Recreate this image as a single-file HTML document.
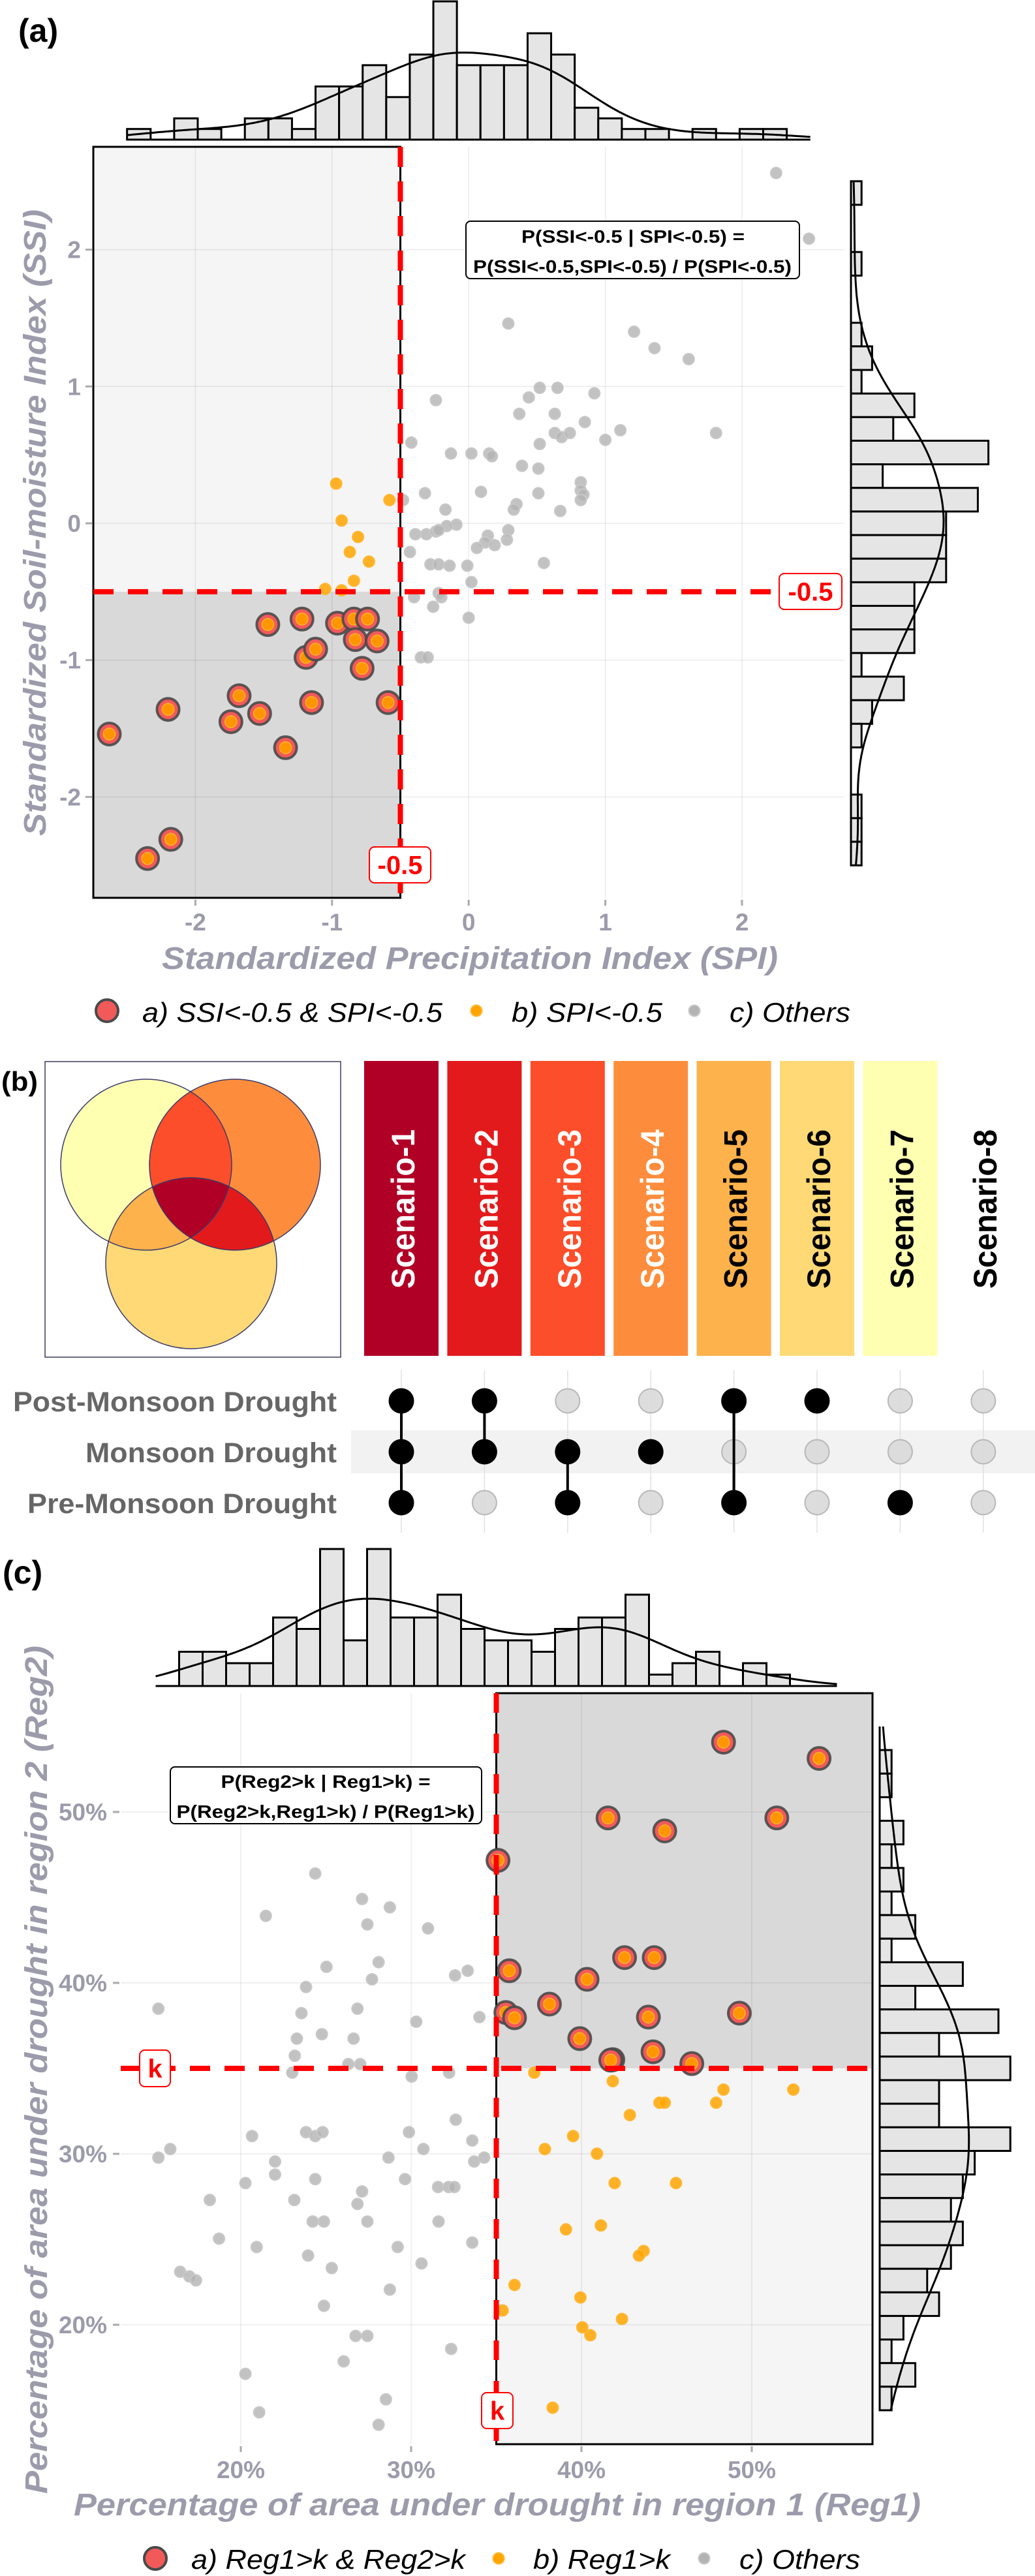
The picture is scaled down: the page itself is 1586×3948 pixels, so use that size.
<!DOCTYPE html>
<html><head><meta charset="utf-8"><title>Drought joint probability figure</title>
<style>
html,body{margin:0;padding:0;background:#fff;}
svg{display:block;font-family:"Liberation Sans",Arial,sans-serif;}
</style></head>
<body>
<svg id="fig" xmlns="http://www.w3.org/2000/svg" width="1586" height="3948" viewBox="0 0 1586 3948">
<defs>
<clipPath id="clipL"><circle cx="224" cy="1785" r="131"/></clipPath>
<clipPath id="clipR"><circle cx="360" cy="1785" r="131"/></clipPath>
<clipPath id="clipB"><circle cx="293" cy="1936" r="131"/></clipPath>
</defs>
<rect x="0" y="0" width="1586" height="3948" fill="#fff"/>
<g id="pa"></g>
<g id="pb"></g>
<g id="pc"></g>
</svg>
<script>
// ---------- Panel (a) data ----------
const aTopCounts=[1,0,2,1,0,2,2,1,5,5,7,4,8,13,7,7,7,10,8,3,2,1,1,0,1,0,1,1,0];
const aRightCounts=[1,0,0,1,0,0,1,2,1,6,4,13,3,12,9,9,9,6,6,6,1,5,2,1,0,0,1,1,1];
const aXTicks=[-2,-1,0,1,2];
const aYTicks=[-2,-1,0,1,2];
const aXTickLabels=["-2","-1","0","1","2"];
const aYTickLabels=["-2","-1","0","1","2"];
const aRedX=[-2.63,-2.20,-2.35,-2.18,-1.74,-1.68,-1.53,-1.47,-1.34,-1.22,-1.19,-1.12,-1.15,-0.96,-0.84,-0.74,-0.83,-0.67,-0.78,-0.59];
const aRedY=[-1.54,-1.36,-2.45,-2.31,-1.45,-1.26,-1.39,-0.74,-1.64,-0.70,-0.98,-0.92,-1.31,-0.73,-0.70,-0.70,-0.85,-0.86,-1.06,-1.31];
const aOrX=[-0.97,-0.93,-0.81,-0.87,-0.73,-0.84,-1.05,-0.93,-0.58];
const aOrY=[0.29,0.02,-0.10,-0.21,-0.28,-0.42,-0.48,-0.49,0.17];
const aGrayX=[2.25,2.49,0.29,1.21,1.36,1.61,-0.24,0.52,0.65,0.44,0.92,0.37,0.63,0.85,1.11,1.81,0.63,0.68,0.74,1.00,0.52,-0.42,-0.13,0.02,0.15,0.17,0.39,0.51,0.82,0.82,0.84,0.82,0.09,-0.32,0.51,-0.48,0.35,0.33,0.67,-0.17,-0.09,-0.16,-0.39,-0.31,-0.24,-0.22,0.14,0.29,0.12,0.28,0.19,0.06,-0.43,-0.28,-0.22,-0.14,-0.01,0.55,0.02,-0.40,-0.22,-0.20,-0.26,0.00,-0.35,-0.30];
const aGrayY=[2.56,2.08,1.46,1.40,1.28,1.20,0.90,0.99,0.99,0.92,0.95,0.80,0.80,0.74,0.68,0.66,0.66,0.63,0.66,0.61,0.58,0.59,0.51,0.51,0.51,0.49,0.42,0.40,0.30,0.24,0.21,0.17,0.23,0.22,0.22,0.17,0.14,0.10,0.09,0.10,-0.01,-0.02,-0.08,-0.08,-0.06,-0.05,-0.09,-0.05,-0.14,-0.12,-0.16,-0.18,-0.21,-0.30,-0.30,-0.31,-0.31,-0.29,-0.43,-0.54,-0.51,-0.54,-0.61,-0.69,-0.98,-0.98];
const aThreshold=[-0.5];
// ---------- Panel (b) data ----------
const bScenarios=["Scenario-1","Scenario-2","Scenario-3","Scenario-4","Scenario-5","Scenario-6","Scenario-7","Scenario-8"];
const bColors=["#B10026","#E31A1C","#FC4E2A","#FD8D3C","#FEB24C","#FED976","#FFFFB2","#FFFFFF"];
const bTextColors=["#fff","#fff","#fff","#fff","#000","#000","#000","#000"];
const bRows=["Post-Monsoon Drought","Monsoon Drought","Pre-Monsoon Drought"];
const bPost=[1,1,0,0,1,1,0,0];
const bMon=[1,1,1,1,0,0,0,0];
const bPre=[1,0,1,0,1,0,1,0];
// ---------- Panel (c) data ----------
const cTopCounts=[0,3,3,2,2,6,5,12,4,12,6,6,8,5,4,4,3,5,6,6,8,1,2,3,0,2,1,0,0];
const cRightCounts=[0,1,1,0,2,1,2,1,3,1,7,3,10,5,11,5,5,11,8,7,6,7,6,4,5,2,1,3,1];
const cXTicks=[20,30,40,50];
const cYTicks=[20,30,40,50];
const cXTickLabels=["20%","30%","40%","50%"];
const cYTickLabels=["20%","30%","40%","50%"];
const cRedX=[48.34,53.95,41.56,44.89,51.47,35.10,35.76,42.53,44.27,40.33,38.12,35.56,36.07,43.93,49.27,39.90,41.84,41.72,44.20,46.48];
const cRedY=[54.08,53.13,49.65,48.89,49.65,47.17,40.71,41.48,41.48,40.21,38.76,38.27,37.96,38.00,38.23,36.74,35.51,35.48,35.97,35.28];
const cOrX=[37.23,41.84,48.34,52.44,44.58,44.89,47.91,42.84,39.51,37.85,40.91,41.95,45.55,39.09,41.14,43.65,43.38,36.07,35.37,39.94,40.05,40.52,42.38,38.31];
const cOrY=[34.75,34.25,33.76,33.76,32.99,32.99,32.99,32.27,31.04,30.28,30.01,28.29,28.29,25.58,25.81,24.32,24.05,22.33,20.84,21.60,19.85,19.39,20.34,15.15];
const cGrayX=[24.37,27.12,28.75,21.47,27.43,30.99,28.09,25.03,32.58,33.32,27.70,23.83,15.16,23.56,26.85,34.01,30.30,24.76,23.29,26.62,23.17,26.31,27.01,23.02,32.23,30.03,32.62,20.66,23.83,24.37,24.80,29.87,30.72,33.59,15.86,15.16,22.01,28.67,33.70,34.29,22.01,29.64,20.27,24.37,27.12,31.58,32.20,32.54,18.18,23.14,26.85,24.22,24.88,27.43,31.61,18.72,33.59,29.21,20.93,23.95,30.61,25.34,16.44,16.98,17.37,28.75,24.88,26.74,27.43,32.35,26.04,20.27,28.52,21.08,28.09];
const cGrayY=[46.40,44.91,44.42,43.92,43.42,43.19,41.21,40.94,40.44,40.71,40.21,39.76,38.49,38.23,38.49,38.00,37.73,37.00,36.74,36.74,35.74,35.25,35.25,34.75,34.75,34.52,32.00,31.04,31.27,31.04,31.27,31.27,30.28,30.78,30.28,29.78,29.55,29.78,29.55,29.78,28.79,28.52,28.29,28.52,27.80,28.06,28.06,28.06,27.30,27.30,27.07,26.04,26.04,26.04,26.04,25.04,24.81,24.55,24.55,24.05,23.59,23.32,23.10,22.83,22.60,22.06,21.11,19.35,19.35,18.59,17.86,17.13,15.64,14.88,14.15];
const cThreshold=[35];

const NS="http://www.w3.org/2000/svg";
function mk(tag,attrs,parent){const e=document.createElementNS(NS,tag);for(const k in attrs)e.setAttribute(k,attrs[k]);parent.appendChild(e);return e;}
function txt(str,attrs,parent){const e=mk("text",attrs,parent);e.textContent=str;return e;}
function kdeCounts(edges,counts,bw,v){let s=0;const w=edges[1]-edges[0];for(let i=0;i<counts.length;i++){const c=(edges[i]+edges[i+1])/2;const z=(v-c)/bw;s+=counts[i]*Math.exp(-0.5*z*z)/(bw*Math.sqrt(2*Math.PI));}return s*w;}
function edgesOf(lo,hi,n){const e=[];for(let i=0;i<=n;i++)e.push(lo+(hi-lo)*i/n);return e;}

const GRAYTXT="#9b9bab";

// ================= PANEL A =================
(function(){
const g=document.getElementById("pa");
const ax=v=>718.2+209.4*v, ay=v=>802-209.7*v;
const L=143,R=1294,T=225,B=1376;
const t=aThreshold[0];
let e;
e=txt("(a)",{x:28,y:64,"font-size":50,"font-weight":"bold",fill:"#000"},g);


e=mk("rect",{x:L,y:T,width:ax(t)-L,height:ay(t)-T,fill:"#f5f5f5"},g);


e=mk("rect",{x:L,y:ay(t),width:ax(t)-L,height:B-ay(t),fill:"#d9d9d9"},g);


aXTicks.forEach((v,i)=>{
 e=mk("line",{x1:ax(v),x2:ax(v),y1:T,y2:B,stroke:"#000","stroke-opacity":0.08,"stroke-width":1.5},g);
 
 
 e=mk("line",{x1:ax(v),x2:ax(v),y1:B+3,y2:B+12,stroke:"#aaa","stroke-width":3},g);
 
 
 e=txt(aXTickLabels[i],{x:ax(v),y:1426,"text-anchor":"middle","font-size":37,"font-weight":"bold",fill:GRAYTXT},g);
 
 
});
aYTicks.forEach((v,i)=>{
 e=mk("line",{x1:L,x2:R,y1:ay(v),y2:ay(v),stroke:"#000","stroke-opacity":0.08,"stroke-width":1.5},g);
 
 
 e=mk("line",{x1:131,x2:141,y1:ay(v),y2:ay(v),stroke:"#aaa","stroke-width":3},g);
 
 
 e=txt(aYTickLabels[i],{x:124,y:ay(v)+13,"text-anchor":"end","font-size":37,"font-weight":"bold",fill:GRAYTXT},g);
 
 
});
e=mk("rect",{x:L,y:T,width:ax(t)-L,height:B-T,fill:"none",stroke:"#000","stroke-width":3},g);


aGrayX.forEach((v,i)=>{
 e=mk("circle",{cx:ax(v),cy:ay(aGrayY[i]),r:8.5,fill:"#b3b3b3","fill-opacity":0.8,stroke:"#c8c8c8","stroke-width":2},g);
 
 
});
aOrX.forEach((v,i)=>{
 e=mk("circle",{cx:ax(v),cy:ay(aOrY[i]),r:8.5,fill:"#FFA500","fill-opacity":0.85,stroke:"#ffb733","stroke-width":2},g);
 
 
});
aRedX.forEach((v,i)=>{
 e=mk("circle",{cx:ax(v),cy:ay(aRedY[i]),r:17,fill:"#F25A5A",stroke:"#4a4a4a","stroke-opacity":0.9,"stroke-width":4},g);
 
 
 e=mk("circle",{cx:ax(v),cy:ay(aRedY[i]),r:9,fill:"#FF9500",stroke:"#ffaa22","stroke-width":2},g);
 
 
});
e=mk("line",{x1:L,x2:1196,y1:ay(t),y2:ay(t),stroke:"#ff0000","stroke-width":8,"stroke-dasharray":"31 22"},g);


e=mk("line",{x1:ax(t),x2:ax(t),y1:T,y2:B,stroke:"#ff0000","stroke-width":8,"stroke-dasharray":"31 22"},g);


const lab=(x,y,w,h,name)=>{
 const gg=mk("g",{},g);
 
 
 mk("rect",{x:x,y:y,width:w,height:h,rx:8,fill:"#fff",stroke:"#ff0000","stroke-width":2},gg);
 txt("-0.5",{x:x+w/2,y:y+h/2+14,"text-anchor":"middle","font-size":40,"font-weight":"bold",fill:"#ff0000"},gg);
};
lab(1194,879,96,55,'ssi-threshold-label');
lab(566,1298,94,55,'spi-threshold-label');
e=mk("rect",{x:714,y:339,width:511,height:88,rx:7,fill:"#fff",stroke:"#000","stroke-width":2},g);


e=txt("P(SSI<-0.5 | SPI<-0.5) =",{x:970,y:372,"text-anchor":"middle","font-size":28,"font-weight":"bold",fill:"#000",textLength:342,lengthAdjust:"spacingAndGlyphs"},g);


e=txt("P(SSI<-0.5,SPI<-0.5) / P(SPI<-0.5)",{x:969,y:418,"text-anchor":"middle","font-size":28,"font-weight":"bold",fill:"#000",textLength:488,lengthAdjust:"spacingAndGlyphs"},g);


const te=edgesOf(-2.5,2.5,aTopCounts.length), base=214, unit=16.3;
aTopCounts.forEach((c,i)=>{ if(!c) return;
 e=mk("rect",{x:ax(te[i]),y:base-c*unit,width:ax(te[i+1])-ax(te[i]),height:c*unit,fill:"#e5e5e5",stroke:"#000","stroke-width":3},g);
 
 
});
e=mk("line",{x1:ax(-2.5),x2:ax(2.5),y1:base,y2:base,stroke:"#000","stroke-width":3},g);


let d="";
for(let v=-2.5;v<=2.5001;v+=0.02){const yy=base-kdeCounts(te,aTopCounts,0.33,v)*unit;d+=(d?"L":"M")+ax(v).toFixed(1)+","+yy.toFixed(1);}
e=mk("path",{d:d,fill:"none",stroke:"#000","stroke-width":3},g);


const re=edgesOf(2.5,-2.5,aRightCounts.length), rb=1304, ru=16.2;
aRightCounts.forEach((c,i)=>{ if(!c) return;
 e=mk("rect",{x:rb,y:ay(re[i]),width:c*ru,height:ay(re[i+1])-ay(re[i]),fill:"#e5e5e5",stroke:"#000","stroke-width":3},g);
 
 
});
e=mk("line",{x1:rb,x2:rb,y1:ay(2.5),y2:ay(-2.5),stroke:"#000","stroke-width":3},g);


d="";
for(let v=2.5;v>=-2.5001;v-=0.02){const xx=rb-kdeCounts(re.slice().reverse(),aRightCounts.slice().reverse(),0.3,v)*ru;d+=(d?"L":"M")+(2*rb-xx).toFixed(1)+","+ay(v).toFixed(1);}
e=mk("path",{d:d,fill:"none",stroke:"#000","stroke-width":3},g);


e=txt("Standardized Precipitation Index (SPI)",{x:720,y:1485,"text-anchor":"middle","font-size":48,"font-weight":"bold","font-style":"italic",fill:GRAYTXT,textLength:944,lengthAdjust:"spacingAndGlyphs"},g);


e=txt("Standardized Soil-moisture Index (SSI)",{x:0,y:0,transform:"translate(70,801) rotate(-90)","text-anchor":"middle","font-size":48,"font-weight":"bold","font-style":"italic",fill:GRAYTXT,textLength:960,lengthAdjust:"spacingAndGlyphs"},g);


const lg=mk("g",{},g);


e=mk("circle",{cx:164,cy:1549,r:17,fill:"#F25A5A",stroke:"#4a4a4a","stroke-width":4},lg);


e=txt("a) SSI<-0.5 & SPI<-0.5",{x:218,y:1566,"font-size":42,"font-style":"italic",fill:"#000",textLength:460,lengthAdjust:"spacingAndGlyphs"},lg);


e=mk("circle",{cx:730,cy:1549,r:8.5,fill:"#FFA500",stroke:"#ffb733","stroke-width":2},lg);


e=txt("b) SPI<-0.5",{x:784,y:1566,"font-size":42,"font-style":"italic",fill:"#000",textLength:231,lengthAdjust:"spacingAndGlyphs"},lg);


e=mk("circle",{cx:1064,cy:1549,r:8.5,fill:"#b3b3b3",stroke:"#c8c8c8","stroke-width":2},lg);


e=txt("c) Others",{x:1118,y:1566,"font-size":42,"font-style":"italic",fill:"#000",textLength:185,lengthAdjust:"spacingAndGlyphs"},lg);


})();

// ================= PANEL B =================
(function(){
const g=document.getElementById("pb");
let e;
e=txt("(b)",{x:2,y:1672,"font-size":42,"font-weight":"bold",fill:"#000",textLength:56,lengthAdjust:"spacingAndGlyphs"},g);


e=mk("rect",{x:69,y:1627,width:453,height:453,fill:"#fff",stroke:"#3a3a5a","stroke-width":1.5},g);


const vg=mk("g",{},g);


e=mk("circle",{cx:224,cy:1785,r:131,fill:"#FFFFB2"},vg);


e=mk("circle",{cx:360,cy:1785,r:131,fill:"#FD8D3C"},vg);


e=mk("circle",{cx:293,cy:1936,r:131,fill:"#FED976"},vg);


e=mk("circle",{cx:360,cy:1785,r:131,fill:"#FC4E2A","clip-path":"url(#clipL)"},vg);


e=mk("circle",{cx:293,cy:1936,r:131,fill:"#FEB24C","clip-path":"url(#clipL)"},vg);


e=mk("circle",{cx:293,cy:1936,r:131,fill:"#E31A1C","clip-path":"url(#clipR)"},vg);


const g3=mk("g",{"clip-path":"url(#clipL)"},vg);
e=mk("circle",{cx:293,cy:1936,r:131,fill:"#B10026","clip-path":"url(#clipR)"},g3);


[[224,1785],[360,1785],[293,1936]].forEach(p=>{
 e=mk("circle",{cx:p[0],cy:p[1],r:131,fill:"none",stroke:"#3a3a6a","stroke-width":1.5},vg);
 
 
});
const colX=i=>615+127.4*i;
const rowY=[2147,2225,2303];
e=mk("rect",{x:538,y:2192,width:1048,height:66,fill:"#f2f2f2"},g);


bScenarios.forEach((s,i)=>{
 const cx=colX(i);
 e=mk("rect",{x:cx-57,y:1626,width:114,height:452,fill:bColors[i]},g);
 
 
 e=txt(s,{x:0,y:0,transform:"translate("+(cx+20)+",1853) rotate(-90)","text-anchor":"middle","font-size":50,"font-weight":"bold",fill:bTextColors[i],textLength:244,lengthAdjust:"spacingAndGlyphs"},g);
 
 
 e=mk("line",{x1:cx,x2:cx,y1:2100,y2:2349,stroke:"#e0e0e0","stroke-width":1.5},g);
 
 
});
bRows.forEach((r,j)=>{
 const lens=[496,385,474];
 e=txt(r,{x:516,y:rowY[j]+16,"text-anchor":"end","font-size":43,"font-weight":"bold",fill:"#666",textLength:lens[j],lengthAdjust:"spacingAndGlyphs"},g);
 
 
});
const rowsVals=[bPost,bMon,bPre];
bScenarios.forEach((s,i)=>{
 const on=[];rowsVals.forEach((rv,j)=>{if(rv[i])on.push(j);});
 if(on.length>1){
  e=mk("line",{x1:colX(i),x2:colX(i),y1:rowY[on[0]],y2:rowY[on[on.length-1]],stroke:"#000","stroke-width":4},g);
  
  
 }
});
bScenarios.forEach((s,i)=>{
 rowsVals.forEach((rv,j)=>{
  if(rv[i]){
   e=mk("circle",{cx:colX(i),cy:rowY[j],r:19.5,fill:"#000"},g);
   
   
  }else{
   e=mk("circle",{cx:colX(i),cy:rowY[j],r:18.5,fill:"#d9d9d9",stroke:"#b8b8b8","stroke-width":2,"fill-opacity":0.9},g);
   
   
  }
 });
});
bScenarios.forEach((s,i)=>{
 const on=[];rowsVals.forEach((rv,j)=>{if(rv[i])on.push(j);});
 if(on.length>1 && on[on.length-1]-on[0]>on.length-1){
  e=mk("line",{x1:colX(i),x2:colX(i),y1:rowY[on[0]],y2:rowY[on[on.length-1]],stroke:"#000","stroke-width":4},g);
  
  
 }
});
})();

// ================= PANEL C =================
(function(){
const g=document.getElementById("pc");
const cx=p=>369+26.1*(p-20), cy=p=>3563-26.2*(p-20);
const L=185,R=1337,T=2595,B=3746;
const k=cThreshold[0];
let e;
e=txt("(c)",{x:4,y:2427,"font-size":50,"font-weight":"bold",fill:"#000"},g);


e=mk("rect",{x:cx(k),y:T,width:R-cx(k),height:cy(k)-T,fill:"#d9d9d9"},g);


e=mk("rect",{x:cx(k),y:cy(k),width:R-cx(k),height:B-cy(k),fill:"#f5f5f5"},g);


cXTicks.forEach((v,i)=>{
 e=mk("line",{x1:cx(v),x2:cx(v),y1:T,y2:B,stroke:"#000","stroke-opacity":0.08,"stroke-width":1.5},g);
 
 
 e=mk("line",{x1:cx(v),x2:cx(v),y1:B+3,y2:B+12,stroke:"#aaa","stroke-width":3},g);
 
 
 e=txt(cXTickLabels[i],{x:cx(v),y:3798,"text-anchor":"middle","font-size":37,"font-weight":"bold",fill:GRAYTXT},g);
 
 
});
cYTicks.forEach((v,i)=>{
 e=mk("line",{x1:L,x2:R,y1:cy(v),y2:cy(v),stroke:"#000","stroke-opacity":0.08,"stroke-width":1.5},g);
 
 
 e=mk("line",{x1:173,x2:183,y1:cy(v),y2:cy(v),stroke:"#aaa","stroke-width":3},g);
 
 
 e=txt(cYTickLabels[i],{x:164,y:cy(v)+13,"text-anchor":"end","font-size":37,"font-weight":"bold",fill:GRAYTXT},g);
 
 
});
e=mk("rect",{x:cx(k),y:T,width:R-cx(k),height:B-T,fill:"none",stroke:"#000","stroke-width":3},g);


cGrayX.forEach((v,i)=>{
 e=mk("circle",{cx:cx(v),cy:cy(cGrayY[i]),r:8.5,fill:"#b3b3b3","fill-opacity":0.8,stroke:"#c8c8c8","stroke-width":2},g);
 
 
});
cOrX.forEach((v,i)=>{
 e=mk("circle",{cx:cx(v),cy:cy(cOrY[i]),r:8.5,fill:"#FFA500","fill-opacity":0.85,stroke:"#ffb733","stroke-width":2},g);
 
 
});
cRedX.forEach((v,i)=>{
 e=mk("circle",{cx:cx(v),cy:cy(cRedY[i]),r:17,fill:"#F25A5A",stroke:"#4a4a4a","stroke-opacity":0.9,"stroke-width":4},g);
 
 
 e=mk("circle",{cx:cx(v),cy:cy(cRedY[i]),r:9,fill:"#FF9500",stroke:"#ffaa22","stroke-width":2},g);
 
 
});
e=mk("line",{x1:L,x2:R,y1:cy(k),y2:cy(k),stroke:"#ff0000","stroke-width":8,"stroke-dasharray":"31 22"},g);


e=mk("line",{x1:cx(k),x2:cx(k),y1:T,y2:B,stroke:"#ff0000","stroke-width":8,"stroke-dasharray":"30 32"},g);


const lab=(x,y,w,h,name)=>{
 const gg=mk("g",{},g);
 
 
 mk("rect",{x:x,y:y,width:w,height:h,rx:8,fill:"#fff",stroke:"#ff0000","stroke-width":2},gg);
 txt("k",{x:x+w/2,y:y+h/2+14,"text-anchor":"middle","font-size":40,"font-weight":"bold",fill:"#ff0000"},gg);
};
lab(214,3142,47,56,'reg2-threshold-label');
lab(738,3667,48,55,'reg1-threshold-label');
e=mk("rect",{x:261,y:2708,width:477,height:87,rx:7,fill:"#fff",stroke:"#000","stroke-width":2},g);


e=txt("P(Reg2>k | Reg1>k) =",{x:499,y:2740,"text-anchor":"middle","font-size":28,"font-weight":"bold",fill:"#000",textLength:321,lengthAdjust:"spacingAndGlyphs"},g);


e=txt("P(Reg2>k,Reg1>k) / P(Reg1>k)",{x:499,y:2786,"text-anchor":"middle","font-size":28,"font-weight":"bold",fill:"#000",textLength:457,lengthAdjust:"spacingAndGlyphs"},g);


const te=edgesOf(15,55,cTopCounts.length), base=2584, unit=17.5;
cTopCounts.forEach((c,i)=>{ if(!c) return;
 e=mk("rect",{x:cx(te[i]),y:base-c*unit,width:cx(te[i+1])-cx(te[i]),height:c*unit,fill:"#e5e5e5",stroke:"#000","stroke-width":3},g);
 
 
});
e=mk("line",{x1:cx(15),x2:cx(55),y1:base,y2:base,stroke:"#000","stroke-width":3},g);


let d="";
for(let v=15;v<=55.001;v+=0.2){const yy=base-kdeCounts(te,cTopCounts,2.6,v)*unit;d+=(d?"L":"M")+cx(v).toFixed(1)+","+yy.toFixed(1);}
e=mk("path",{d:d,fill:"none",stroke:"#000","stroke-width":3},g);


const re=edgesOf(55,15,cRightCounts.length), rb=1348, ru=18.2;
cRightCounts.forEach((c,i)=>{ if(!c) return;
 e=mk("rect",{x:rb,y:cy(re[i]),width:c*ru,height:cy(re[i+1])-cy(re[i]),fill:"#e5e5e5",stroke:"#000","stroke-width":3},g);
 
 
});
e=mk("line",{x1:rb,x2:rb,y1:cy(55),y2:cy(15),stroke:"#000","stroke-width":3},g);


d="";
const reA=re.slice().reverse(), rcA=cRightCounts.slice().reverse();
for(let v=55;v>=14.999;v-=0.2){const xx=rb+kdeCounts(reA,rcA,2.8,v)*ru;d+=(d?"L":"M")+xx.toFixed(1)+","+cy(v).toFixed(1);}
e=mk("path",{d:d,fill:"none",stroke:"#000","stroke-width":3},g);


e=txt("Percentage of area under drought in region 1 (Reg1)",{x:762,y:3855,"text-anchor":"middle","font-size":48,"font-weight":"bold","font-style":"italic",fill:GRAYTXT,textLength:1298,lengthAdjust:"spacingAndGlyphs"},g);


e=txt("Percentage of area under drought in region 2 (Reg2)",{x:0,y:0,transform:"translate(72,3172) rotate(-90)","text-anchor":"middle","font-size":48,"font-weight":"bold","font-style":"italic",fill:GRAYTXT,textLength:1300,lengthAdjust:"spacingAndGlyphs"},g);


const lg=mk("g",{},g);


e=mk("circle",{cx:238,cy:3921,r:17,fill:"#F25A5A",stroke:"#4a4a4a","stroke-width":4},lg);


e=txt("a) Reg1>k & Reg2>k",{x:293,y:3937,"font-size":42,"font-style":"italic",fill:"#000",textLength:420,lengthAdjust:"spacingAndGlyphs"},lg);


e=mk("circle",{cx:764,cy:3921,r:8.5,fill:"#FFA500",stroke:"#ffb733","stroke-width":2},lg);


e=txt("b) Reg1>k",{x:817,y:3937,"font-size":42,"font-style":"italic",fill:"#000",textLength:210,lengthAdjust:"spacingAndGlyphs"},lg);


e=mk("circle",{cx:1079,cy:3921,r:8.5,fill:"#b3b3b3",stroke:"#c8c8c8","stroke-width":2},lg);


e=txt("c) Others",{x:1133,y:3937,"font-size":42,"font-style":"italic",fill:"#000",textLength:185,lengthAdjust:"spacingAndGlyphs"},lg);


})();
</script>
</body></html>
